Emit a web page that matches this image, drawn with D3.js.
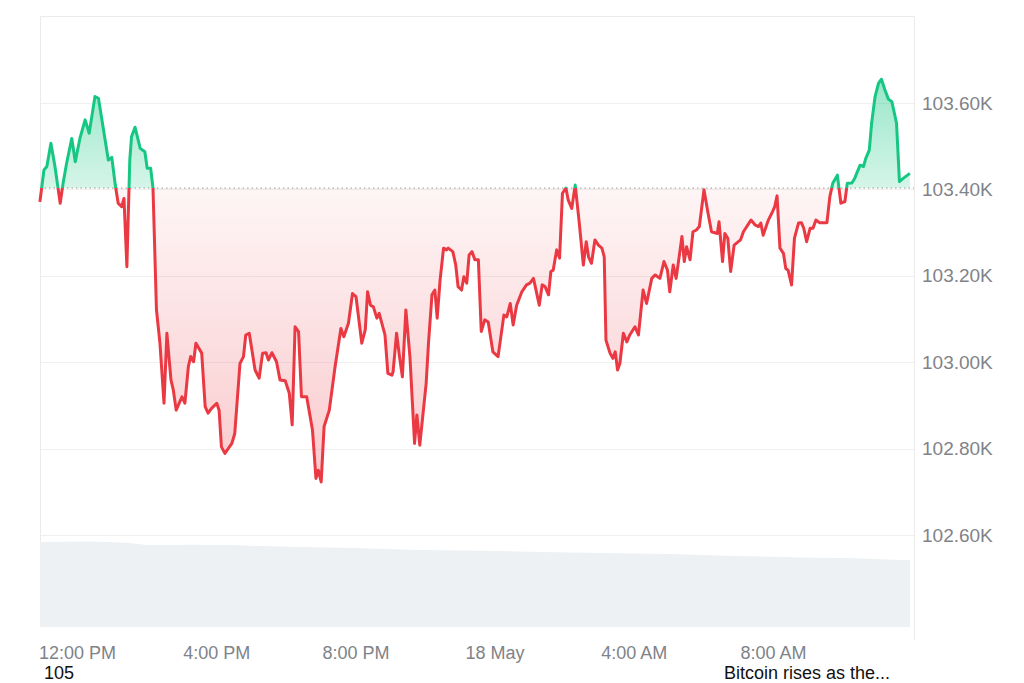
<!DOCTYPE html>
<html>
<head>
<meta charset="utf-8">
<script src="https://cdn.jsdelivr.net/npm/d3@7"></script>
<style>
  html, body { margin: 0; padding: 0; background: #fff; }
  svg { display: block; font-family: "Liberation Sans", Arial, sans-serif; }
</style>
</head>
<body>
<svg id="chart" width="1024" height="683"></svg>
<script>
// ---- data (minutes relative to 12:00 PM, 17 May) ----
const minutes = [-64,-57,-52,-45,-38,-29,-24,-18,-9,-3,5,14,21,31,37,54,60,66,71,77,81,86,91,94,100,109,117,121,127,131,137,143,150,155,162,166,171,181,186,192,196,201,205,215,221,226,232,241,245,249,255,267,272,281,287,291,297,307,314,320,326,330,336,344,350,359,366,371,376,382,387,396,406,412,416,421,426,435,445,455,460,468,475,481,491,497,501,506,511,517,521,531,536,543,545,551,556,561,567,574,582,586,591,602,606,612,617,621,626,632,637,640,648,653,657,663,667,672,676,681,686,692,697,703,709,717,726,736,741,747,752,758,767,775,781,787,797,802,807,813,817,821,827,832,837,843,847,853,859,866,873,878,882,887,893,899,905,909,912,919,924,928,932,936,942,948,953,962,968,976,982,991,997,1005,1012,1018,1022,1028,1033,1043,1047,1051,1057,1062,1068,1073,1081,1088,1094,1104,1107,1113,1117,1122,1127,1133,1144,1149,1162,1169,1175,1179,1183,1192,1199,1203,1207,1212,1218,1222,1226,1232,1237,1244,1249,1253,1258,1264,1269,1274,1280,1293,1298,1303,1311,1317,1324,1328,1336,1341,1350,1356,1360,1366,1370,1376,1382,1387,1393,1399,1405,1413,1418,1425,1436];
const prices = [103371,103445,103453,103507,103453,103368,103414,103460,103518,103464,103518,103561,103530,103615,103611,103468,103474,103410,103368,103360,103379,103221,103468,103522,103544,103495,103487,103449,103449,103403,103121,103044,102905,103067,102959,102936,102889,102920,102905,102990,103013,103001,103044,103021,102897,102882,102893,102905,102889,102804,102789,102812,102835,102997,103013,103063,103067,102982,102963,103021,103022,103005,103022,103001,102959,102957,102928,102855,103082,103071,102920,102920,102843,102731,102750,102723,102851,102889,102990,103078,103059,103090,103159,103152,103044,103075,103163,103132,103128,103102,103113,103063,102974,102970,102978,103067,103013,102966,103121,103013,102812,102878,102808,102951,103044,103156,103167,103102,103190,103264,103260,103264,103256,103225,103175,103167,103198,103183,103248,103256,103237,103237,103071,103098,103093,103024,103013,103109,103105,103136,103086,103132,103163,103179,103183,103194,103132,103179,103175,103156,103210,103213,103260,103241,103391,103403,103375,103356,103410,103322,103225,103279,103244,103229,103283,103271,103264,103244,103051,103021,103009,103024,102982,102997,103067,103047,103063,103082,103063,103167,103136,103194,103202,103194,103233,103213,103163,103225,103194,103291,103233,103267,103237,103302,103306,103314,103399,103345,103302,103298,103325,103233,103298,103287,103210,103271,103283,103302,103329,103318,103314,103322,103294,103329,103348,103360,103385,103264,103252,103217,103213,103179,103287,103322,103323,103310,103279,103310,103310,103329,103323,103323,103383,103414,103433,103368,103372,103414,103415,103426,103456,103453,103472,103491,103553,103615,103646,103655,103630,103609,103603,103553,103418,103426,103437];
const baselinePrice = 103403;

const volMinutes = [-64, 20, 52, 90, 121, 200, 264, 330, 384, 480, 591, 700, 800, 902, 1020, 1131, 1250, 1340, 1419, 1436];
const volumes = [28.3, 28.5, 28.3, 28.0, 27.3, 27.4, 27.3, 26.9, 26.7, 26.3, 25.7, 25.4, 25.0, 24.7, 24.3, 23.7, 23.2, 22.9, 22.3, 22.3]; // billions

const yTicks = [102600, 102800, 103000, 103200, 103400, 103600];
const xTickMinutes = [0, 240, 480, 720, 960, 1200];
const xTickLabels = ["12:00 PM", "4:00 PM", "8:00 PM", "18 May", "4:00 AM", "8:00 AM"];
const footLeft = "105";
const footRight = "Bitcoin rises as the...";

// ---- layout ----
const plotL = 40, plotR = 914, plotT = 16, volBottom = 627;
const baseTime = new Date(2025, 4, 17, 12, 0, 0);
const toDate = m => new Date(baseTime.getTime() + m * 60000);

const x = d3.scaleTime()
  .domain([toDate(-63.8), toDate(1443.1)])
  .range([plotL, plotR]);
const y = d3.scaleLinear().domain([102600, 103600]).range([535, 103]);
const yVol = d3.scaleLinear().domain([0, 30]).range([volBottom, 537]);

const data = minutes.map((m, i) => ({ t: toDate(m), p: prices[i] }));
const vdata = volMinutes.map((m, i) => ({ t: toDate(m), v: volumes[i] }));

const svg = d3.select("#chart");
const defs = svg.append("defs");
const yb = y(baselinePrice);

// gradients
const gGreen = defs.append("linearGradient").attr("id", "gGreen")
  .attr("gradientUnits", "userSpaceOnUse").attr("x1", 0).attr("x2", 0).attr("y1", 75).attr("y2", yb);
gGreen.append("stop").attr("offset", 0).attr("stop-color", "#16c784").attr("stop-opacity", 0.45);
gGreen.append("stop").attr("offset", 1).attr("stop-color", "#16c784").attr("stop-opacity", 0.18);
const gRed = defs.append("linearGradient").attr("id", "gRed")
  .attr("gradientUnits", "userSpaceOnUse").attr("x1", 0).attr("x2", 0).attr("y1", yb).attr("y2", 485);
gRed.append("stop").attr("offset", 0).attr("stop-color", "#ea3943").attr("stop-opacity", 0.05);
gRed.append("stop").attr("offset", 1).attr("stop-color", "#ea3943").attr("stop-opacity", 0.27);

defs.append("clipPath").attr("id", "clipUp").append("rect")
  .attr("x", plotL - 3).attr("y", 0).attr("width", plotR - plotL + 6).attr("height", yb);
defs.append("clipPath").attr("id", "clipDown").append("rect")
  .attr("x", plotL - 3).attr("y", yb).attr("width", plotR - plotL + 6).attr("height", volBottom - yb);

// gridlines
svg.append("g").selectAll("line").data(yTicks).join("line")
  .attr("x1", plotL).attr("x2", plotR)
  .attr("y1", d => Math.round(y(d)) + 0.5).attr("y2", d => Math.round(y(d)) + 0.5)
  .attr("stroke", "#f0f0f0").attr("stroke-width", 1);

// frame
svg.append("path")
  .attr("d", `M${plotL + 0.5},${volBottom} V${plotT + 0.5} H${plotR + 0.5} V${volBottom + 13}`)
  .attr("fill", "none").attr("stroke", "#ebebeb").attr("stroke-width", 1);

// volume area
svg.append("path").datum(vdata)
  .attr("d", d3.area().x(d => x(d.t)).y0(volBottom).y1(d => yVol(d.v)))
  .attr("fill", "#edf1f4");

// price fills
const area = d3.area().x(d => x(d.t)).y0(yb).y1(d => y(d.p));
svg.append("path").datum(data).attr("d", area)
  .attr("fill", "url(#gGreen)").attr("clip-path", "url(#clipUp)");
svg.append("path").datum(data).attr("d", area)
  .attr("fill", "url(#gRed)").attr("clip-path", "url(#clipDown)");

// baseline dotted
svg.append("line")
  .attr("x1", plotL).attr("x2", plotR).attr("y1", yb).attr("y2", yb)
  .attr("stroke", "#9a9a9a").attr("stroke-width", 1).attr("stroke-dasharray", "1.5,3");

// price lines
const line = d3.line().x(d => x(d.t)).y(d => y(d.p));
svg.append("path").datum(data).attr("d", line)
  .attr("fill", "none").attr("stroke", "#16c784").attr("stroke-width", 3)
  .attr("stroke-linejoin", "round").attr("clip-path", "url(#clipUp)");
svg.append("path").datum(data).attr("d", line)
  .attr("fill", "none").attr("stroke", "#ea3943").attr("stroke-width", 3)
  .attr("stroke-linejoin", "round").attr("clip-path", "url(#clipDown)");

// y axis
const yAxis = d3.axisRight(y).tickValues(yTicks).tickSize(0).tickPadding(8)
  .tickFormat(d => (d / 1000).toFixed(2) + "K");
const gy = svg.append("g").attr("transform", `translate(${plotR},0)`).call(yAxis);
gy.select(".domain").remove();
gy.selectAll("text").attr("fill", "#7f8389").style("font-size", "19px")
  .style("font-family", "'Liberation Sans', Arial, sans-serif");

// x axis
const xAxis = d3.axisBottom(x).tickValues(xTickMinutes.map(toDate)).tickSize(0).tickPadding(19)
  .tickFormat((d, i) => xTickLabels[i]);
const gx = svg.append("g").attr("transform", `translate(0,${volBottom})`).call(xAxis);
gx.select(".domain").remove();
gx.selectAll("text").attr("fill", "#7f8389").style("font-size", "18px")
  .style("font-family", "'Liberation Sans', Arial, sans-serif");

// footer texts
svg.append("text").attr("x", 44).attr("y", 679).text(footLeft)
  .attr("fill", "#111").style("font-size", "18px");
svg.append("text").attr("x", 724).attr("y", 679).text(footRight)
  .attr("fill", "#111").style("font-size", "18px");
</script>
</body>
</html>
